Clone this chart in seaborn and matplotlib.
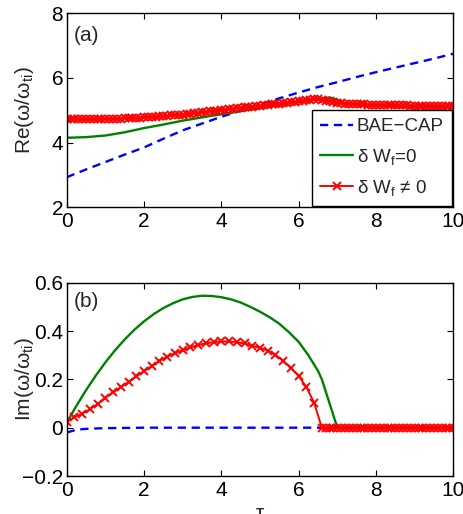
import numpy as np
import pandas as pd
import seaborn as sns
import matplotlib
matplotlib.use("Agg")
import matplotlib.pyplot as plt

# ---- data ----
# panel (a): real part
tau_bae_re = [0, 0.5, 1, 1.5, 2, 2.5, 3, 3.5, 4, 4.5, 5, 5.5, 6, 6.5, 7, 7.5, 8, 8.5, 9, 9.5, 10]
bae_re = [2.93, 3.17, 3.40, 3.63, 3.85, 4.12, 4.38, 4.59, 4.80, 4.99, 5.18, 5.37, 5.55, 5.72,
          5.87, 6.03, 6.18, 6.32, 6.46, 6.60, 6.75]

tau_w0_re = [0, 0.5, 1, 1.5, 2, 2.5, 3, 3.5, 4, 4.5, 5, 5.5, 6, 6.5, 6.8, 7.0, 7.2, 7.5, 8, 8.5, 9, 9.5, 10]
w0_re = [4.15, 4.17, 4.22, 4.32, 4.45, 4.56, 4.68, 4.78, 4.88, 4.97, 5.07, 5.16, 5.25, 5.34, 5.40,
         5.32, 5.22, 5.17, 5.14, 5.12, 5.11, 5.10, 5.10]

tau_w1_re = np.round(np.arange(0, 10.01, 0.1), 1)
w1_re = [4.72, 4.72, 4.72, 4.72, 4.72, 4.72, 4.72, 4.72, 4.73, 4.73, 4.73,
         4.73, 4.74, 4.74, 4.74, 4.75, 4.75, 4.76, 4.76, 4.77, 4.78,
         4.78, 4.79, 4.80, 4.81, 4.82, 4.83, 4.84, 4.85, 4.86, 4.87,
         4.89, 4.90, 4.91, 4.92, 4.94, 4.95, 4.97, 4.98, 4.99, 5.01,
         5.02, 5.03, 5.05, 5.06, 5.07, 5.09, 5.10, 5.11, 5.13, 5.14,
         5.15, 5.17, 5.18, 5.19, 5.21, 5.22, 5.23, 5.25, 5.26, 5.28,
         5.29, 5.31, 5.33, 5.35, 5.34, 5.32, 5.30, 5.28, 5.26, 5.24,
         5.22, 5.21, 5.20, 5.19, 5.19, 5.18, 5.18, 5.17, 5.17, 5.17,
         5.16, 5.16, 5.16, 5.16, 5.15, 5.15, 5.15, 5.15, 5.14, 5.14,
         5.14, 5.14, 5.13, 5.13, 5.13, 5.13, 5.12, 5.12, 5.12, 5.12]

# panel (b): imaginary part
tau_bae_im = [0, 0.2, 0.4, 0.6, 1, 2, 4, 6, 8, 10]
bae_im = [-0.02, -0.011, -0.006, -0.004, -0.002, 0, 0, 0, 0, 0]

tau_w0_im = [0, 0.25, 0.5, 0.75, 1.0, 1.25, 1.5, 1.75, 2.0, 2.25, 2.5, 2.75, 3.0, 3.25, 3.5,
             3.75, 4.0, 4.25, 4.5, 4.75, 5.0, 5.25, 5.5, 5.75, 6.0, 6.25, 6.5, 6.6, 6.8, 7.0,
             8, 9, 10]
w0_im = [0.02, 0.09, 0.155, 0.215, 0.27, 0.32, 0.365, 0.405, 0.44, 0.47, 0.495, 0.515, 0.531,
         0.541, 0.546, 0.545, 0.54, 0.531, 0.518, 0.50, 0.48, 0.457, 0.43, 0.395, 0.355, 0.30,
         0.235, 0.20, 0.10, 0.0, 0.0, 0.0, 0.0]

tau_w1_im = list(np.round(np.arange(0, 6.61, 0.2), 1)) + list(np.round(np.arange(6.7, 10.01, 0.1), 1))
w1_im = [0.022, 0.044, 0.058, 0.076, 0.098, 0.124, 0.146, 0.168, 0.189, 0.212,
         0.234, 0.255, 0.276, 0.294, 0.308, 0.321, 0.332, 0.342, 0.349, 0.354,
         0.357, 0.357, 0.353, 0.349, 0.339, 0.330, 0.319, 0.301, 0.277, 0.246,
         0.214, 0.168, 0.103, 0.0,
         0, 0, 0, 0, 0, 0, 0, 0, 0, 0,
         0, 0, 0, 0, 0, 0, 0, 0, 0, 0,
         0, 0, 0, 0, 0, 0, 0, 0, 0, 0,
         0, 0, 0, 0]

labels = ["BAE\u2212CAP", "\u03b4 W$_f$=0", "\u03b4 W$_f$ \u2260 0"]

sns.set_style("ticks")
plt.rcParams['font.family'] = ['Liberation Sans', 'DejaVu Sans']
plt.rcParams['mathtext.default'] = 'regular'
plt.rcParams['axes.linewidth'] = 1.0
plt.rcParams['xtick.direction'] = 'in'
plt.rcParams['ytick.direction'] = 'in'

fig = plt.figure(figsize=(4.64, 5.14), dpi=100)
ax1 = fig.add_axes([0.1437, 0.5967, 0.8333, 0.3774])
ax2 = fig.add_axes([0.1437, 0.0739, 0.8333, 0.3761])

blue = (0, 0, 1)
green = (0, 0.5, 0)
red = (1, 0, 0)
fs = 15


def draw(ax, xb, yb, xg, yg, xr, yr):
    sns.lineplot(x=xb, y=yb, ax=ax, color=blue, linewidth=1.7, linestyle=(0, (3.5, 2.4)),
                 label=labels[0])
    sns.lineplot(x=xg, y=yg, ax=ax, color=green, linewidth=1.7, label=labels[1])
    sns.lineplot(x=xr, y=yr, ax=ax, color=red, linewidth=1.4, marker='x', markersize=5.5,
                 markeredgewidth=1.4, markeredgecolor=red, label=labels[2])
    ax.set_xlim(0, 10)
    ax.set_xticks([0, 2, 4, 6, 8, 10])
    ax.set_xticklabels(['0', '2', '4', '6', '8', '10'])
    ax.tick_params(axis='both', which='both', top=True, right=True, length=4, width=0.8,
                   labelsize=fs, colors='black')
    ax.tick_params(axis='y', pad=2.5)
    ax.tick_params(axis='x', pad=3.5)
    for s in ax.spines.values():
        s.set_color('black')


draw(ax1, tau_bae_re, bae_re, tau_w0_re, w0_re, tau_w1_re, w1_re)
ax1.set_ylim(2, 8)
ax1.set_yticks([2, 4, 6, 8])
ax1.set_yticklabels(['2', '4', '6', '8'])
ax1.set_ylabel("Re(\u03c9/\u03c9$_{ti}$)", fontsize=fs)
ax1.yaxis.set_label_coords(-0.08, 0.5)
ax1.set_xlabel("")
ax1.text(0.018, 0.935, "(a)", transform=ax1.transAxes, fontsize=fs, ha='left', va='top')
leg = ax1.legend(loc='lower right', fontsize=13.5, frameon=True, fancybox=False,
                 edgecolor='black', framealpha=1, borderaxespad=0.05, handlelength=1.75,
                 handletextpad=0.2, borderpad=0.45, labelspacing=0.6)
leg.get_frame().set_linewidth(1.0)

draw(ax2, tau_bae_im, bae_im, tau_w0_im, w0_im, tau_w1_im, w1_im)
ax2.set_ylim(-0.2, 0.6)
ax2.set_yticks([-0.2, 0, 0.2, 0.4, 0.6])
ax2.set_yticklabels(['\u22120.2', '0', '0.2', '0.4', '0.6'])
ax2.set_ylabel("Im(\u03c9/\u03c9$_{ti}$)", fontsize=fs)
ax2.yaxis.set_label_coords(-0.08, 0.5)
ax2.set_xlabel("\u03c4", fontsize=fs, labelpad=3)
ax2.text(0.018, 0.95, "(b)", transform=ax2.transAxes, fontsize=fs, ha='left', va='top')
ax2.get_legend().remove()

fig.savefig("out.png", dpi=100)
